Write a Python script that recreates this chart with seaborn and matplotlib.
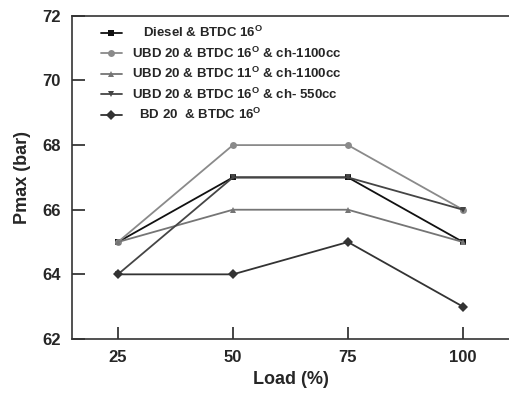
import matplotlib
matplotlib.use("Agg")
import matplotlib.pyplot as plt
import pandas as pd
import seaborn as sns

# Data
load = [25, 50, 75, 100]
diesel = [65, 67, 67, 65]
ubd_16_1100 = [65, 68, 68, 66]
ubd_11_1100 = [65, 66, 66, 65]
ubd_16_550 = [64, 67, 67, 66]
bd_16 = [64, 64, 65, 63]

labels = [
    r"   Diesel & BTDC 16$^{\mathbf{O}}$",
    r"UBD 20 & BTDC 16$^{\mathbf{O}}$ & ch-1100cc",
    r"UBD 20 & BTDC 11$^{\mathbf{O}}$ & ch-1100cc",
    r"UBD 20 & BTDC 16$^{\mathbf{O}}$ & ch- 550cc",
    r"  BD 20  & BTDC 16$^{\mathbf{O}}$",
]
series = [diesel, ubd_16_1100, ubd_11_1100, ubd_16_550, bd_16]
colors = ["#111111", "#8a8a8a", "#757575", "#454545", "#333333"]
markers = ["s", "o", "^", "v", "D"]

sns.set_style("ticks")
plt.rcParams['font.family'] = ['Liberation Sans', 'DejaVu Sans']
plt.rcParams['mathtext.fontset'] = 'custom'
plt.rcParams['mathtext.bf'] = 'Liberation Sans:bold'
plt.rcParams['mathtext.rm'] = 'Liberation Sans'

rows = []
for lab, vals in zip(labels, series):
    for x, y in zip(load, vals):
        rows.append({"Load": x, "Pmax": y, "Case": lab})
df = pd.DataFrame(rows)

fig = plt.figure(figsize=(5.1, 3.96), dpi=100)
ax = fig.add_axes([0.141, 0.144, 0.857, 0.816])

sns.lineplot(data=df, x="Load", y="Pmax", hue="Case", style="Case",
             palette=colors, markers=markers, dashes=False, markersize=5,
             markeredgewidth=0, linewidth=1.3, ax=ax, legend=True)

ax.set_xlim(15, 110)
ax.set_ylim(62, 72)
ax.set_xticks(load)
ax.set_yticks([62, 64, 66, 68, 70, 72])
ax.tick_params(direction='in', length=9, width=1.2, labelsize=12, pad=8)
for t in ax.get_xticklabels() + ax.get_yticklabels():
    t.set_fontweight('bold')
ax.set_xlabel("Load (%)", fontsize=13, fontweight='bold', labelpad=4)
ax.set_ylabel("Pmax (bar)", fontsize=13, fontweight='bold', labelpad=8)

for s in ["left", "bottom", "top"]:
    ax.spines[s].set_linewidth(1.2)
    ax.spines[s].set_color("#333333")
ax.spines["right"].set_visible(False)

leg = ax.legend(loc='upper left', bbox_to_anchor=(0.045, 1.0), frameon=False,
                prop={'weight': 'bold', 'size': 9.5}, handlelength=1.6,
                labelspacing=0.4, borderaxespad=0.3, handletextpad=0.8)

fig.savefig("out.png", dpi=100)
